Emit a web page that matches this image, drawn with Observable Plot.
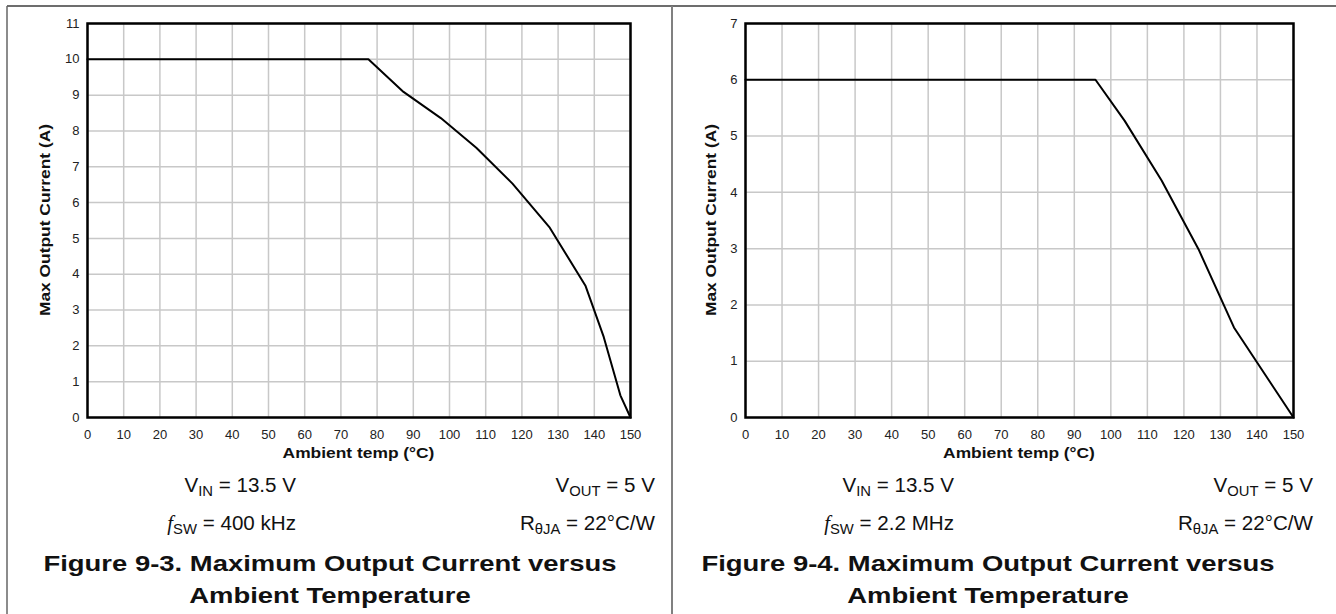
<!DOCTYPE html>
<html><head><meta charset="utf-8">
<script src="https://cdn.jsdelivr.net/npm/d3@7"></script>
<script src="https://cdn.jsdelivr.net/npm/@observablehq/plot@0.6"></script>
<style>
html,body{margin:0;padding:0;background:#fff;}
#root{position:relative;width:1336px;height:614px;overflow:hidden;font-family:"Liberation Sans",Arial,sans-serif;}
#root > svg{position:absolute;top:0;}
</style></head><body><div id="root"></div>
<script>
// ---- data ----
const tempTicks = [0,10,20,30,40,50,60,70,80,90,100,110,120,130,140,150];
const currentTicks1 = [0,1,2,3,4,5,6,7,8,9,10,11];
const currentTicks2 = [0,1,2,3,4,5,6,7];
// Figure 9-3 (400 kHz)
const temp1 = [0, 77.6, 87.3, 97.6, 107.4, 117.4, 127.7, 137.6, 142.6, 147.2, 150];
const current1 = [10, 10, 9.09, 8.36, 7.53, 6.53, 5.30, 3.67, 2.25, 0.62, 0];
// Figure 9-4 (2.2 MHz)
const temp2 = [0, 95.8, 103.8, 113.9, 124.0, 133.7, 150];
const current2 = [6, 6, 5.27, 4.21, 2.99, 1.60, 0];

const xLabel = "Ambient temp (°C)";
const yLabel = "Max Output Current (A)";
const titles = [
  ["Figure 9-3. Maximum Output Current versus", "Ambient Temperature"],
  ["Figure 9-4. Maximum Output Current versus", "Ambient Temperature"]
];
const fswText = ["400 kHz", "2.2 MHz"];

const root = document.getElementById("root");
const FONT = "Liberation Sans, Arial, sans-serif";
const intFmt = d => String(d);

function panel(temps, currents, yMax, yTicks, left, width, ml, mr) {
  const data = temps.map((t, i) => ({temp: t, current: currents[i]}));
  const svg = Plot.plot({
    width, height: 470,
    marginLeft: ml, marginRight: mr, marginTop: 23, marginBottom: 53,
    style: {fontFamily: FONT, fontSize: "13px", color: "#222", background: "transparent", overflow: "visible"},
    x: {domain: [0, 150], label: null},
    y: {domain: [0, yMax], label: null},
    marks: [
      Plot.gridX(tempTicks, {stroke: "#c8c8c8", strokeOpacity: 1, strokeWidth: 1.5}),
      Plot.gridY(yTicks, {stroke: "#c8c8c8", strokeOpacity: 1, strokeWidth: 1.5}),
      Plot.axisX(tempTicks, {tickSize: 0, tickPadding: 12, tickFormat: intFmt, label: null}),
      Plot.axisY(yTicks, {tickSize: 0, tickPadding: 8, tickFormat: intFmt, label: null}),
      Plot.line(data, {x: "temp", y: "current", stroke: "black", strokeWidth: 2, strokeLinejoin: "round"}),
      Plot.frame({stroke: "black", strokeWidth: 2.5})
    ]
  });
  svg.style.left = left + "px";
  root.appendChild(svg);
}

panel(temp1, current1, 11, currentTicks1, 0, 672, 87, 42);
panel(temp2, current2, 7, currentTicks2, 672, 664, 73, 43);

// ---- overlay: borders and annotation text ----
const ov = d3.select(root).append("svg")
  .attr("width", 1336).attr("height", 614)
  .style("left", "0px").style("pointer-events", "none")
  .style("font-family", FONT);

ov.append("line").attr("x1", 7).attr("x2", 1336).attr("y1", 6).attr("y2", 6)
  .attr("stroke", "#3c3c3c").attr("stroke-width", 1.5);
ov.append("line").attr("x1", 7).attr("x2", 7).attr("y1", 6).attr("y2", 614)
  .attr("stroke", "#666").attr("stroke-width", 1.5);
ov.append("line").attr("x1", 672).attr("x2", 672).attr("y1", 6).attr("y2", 614)
  .attr("stroke", "#808080").attr("stroke-width", 2);

function txt(x, y, anchor, size, weight, sx, parts, rotate) {
  const t = ov.append("text")
    .attr("transform", `translate(${x},${y})` + (rotate ? ` rotate(${rotate})` : "") + ` scale(${sx},1)`)
    .attr("text-anchor", anchor)
    .attr("font-size", size)
    .attr("font-weight", weight)
    .attr("fill", "#111");
  parts.forEach(p => {
    const s = typeof p === "string" ? {t: p} : p;
    const ts = t.append("tspan").text(s.t);
    if (s.sub) {
      ts.attr("font-size", size * 0.72).attr("dy", size * 0.22);
    }
    if (s.after) ts.attr("dy", -size * 0.22);
    if (s.italic) ts.attr("font-style", "italic").attr("font-family", "Liberation Serif, Times New Roman, serif");
  });
}

[0, 1].forEach(i => {
  const fx0 = i === 0 ? 87 : 745, fx1 = i === 0 ? 630 : 1293;
  const cx = (fx0 + fx1) / 2;
  const off = i === 0 ? 0 : 658;
  // axis labels
  txt(cx, 458, "middle", 14.5, "bold", 1.2, [xLabel]);
  txt(i === 0 ? 50 : 716, 220, "middle", 14.5, "bold", 1.2, [yLabel], -90);
  // conditions
  const cs = 20, csx = 1.03;
  txt(296 + off, 492, "end", cs, "normal", csx, ["V", {t: "IN", sub: true}, {t: " = 13.5 V", after: true}]);
  txt(296 + off, 530, "end", cs, "normal", csx, [{t: "f", italic: true}, {t: "SW", sub: true}, {t: " = " + fswText[i], after: true}]);
  txt(655 + off, 492, "end", cs, "normal", csx, ["V", {t: "OUT", sub: true}, {t: " = 5 V", after: true}]);
  txt(655 + off, 530, "end", cs, "normal", csx, ["R", {t: "θJA", sub: true}, {t: " = 22°C/W", after: true}]);
  // caption
  const tc = 330 + off;
  txt(tc, 571, "middle", 22.5, "bold", 1.22, [titles[i][0]]);
  txt(tc, 603, "middle", 22.5, "bold", 1.22, [titles[i][1]]);
});
</script>
</body></html>
